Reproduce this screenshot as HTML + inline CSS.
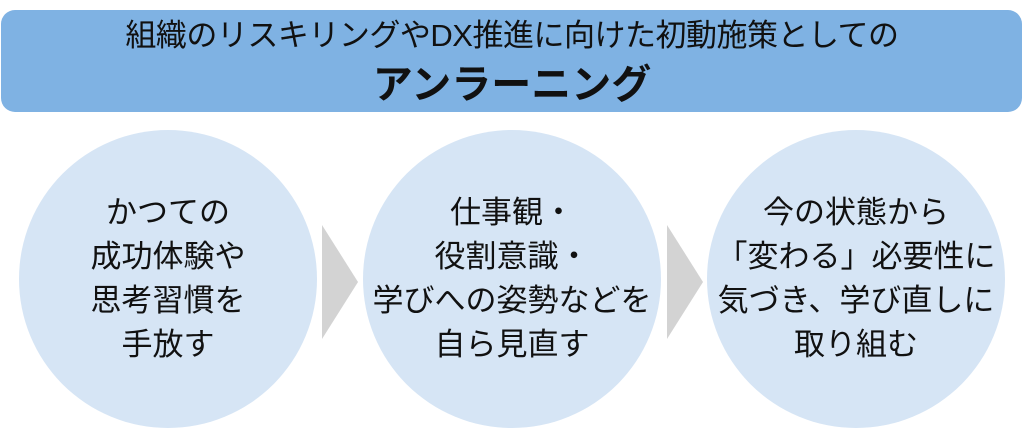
<!DOCTYPE html>
<html><head><meta charset="utf-8"><style>
body{margin:0;width:1024px;height:428px;background:#fff;position:relative;overflow:hidden;font-family:"Liberation Sans","Noto Sans CJK JP",sans-serif;}
.ban{position:absolute;left:1px;top:10px;width:1021px;height:102px;background:#7fb2e3;border-radius:14px;}
.t1{position:absolute;left:0;width:1024px;top:16px;text-align:center;font-size:31px;line-height:40px;color:#111;letter-spacing:-0.5px;}
.t2{position:absolute;left:0;width:1024px;top:60px;text-align:center;font-size:40px;line-height:50px;font-weight:bold;color:#111;}
.c{position:absolute;top:130px;width:298px;height:298px;border-radius:50%;background:#d6e5f5;display:flex;align-items:center;justify-content:center;text-align:center;font-size:31px;line-height:44px;color:#111;}
.ar{position:absolute;top:225px;width:0;height:0;border-top:57px solid transparent;border-bottom:57px solid transparent;border-left:36px solid #d3d3d3;}
</style></head><body>
<div class="ban"></div>
<div class="t1">組織のリスキリングやDX推進に向けた初動施策としての</div>
<div class="t2">アンラーニング</div>
<div class="c" style="left:19px">かつての<br>成功体験や<br>思考習慣を<br>手放す</div>
<div class="ar" style="left:322px"></div>
<div class="c" style="left:363px">仕事観・<br>役割意識・<br>学びへの姿勢などを<br>自ら見直す</div>
<div class="ar" style="left:667px"></div>
<div class="c" style="left:707px">今の状態から<br>「変わる」必要性に<br>気づき、学び直しに<br>取り組む</div>
</body></html>
